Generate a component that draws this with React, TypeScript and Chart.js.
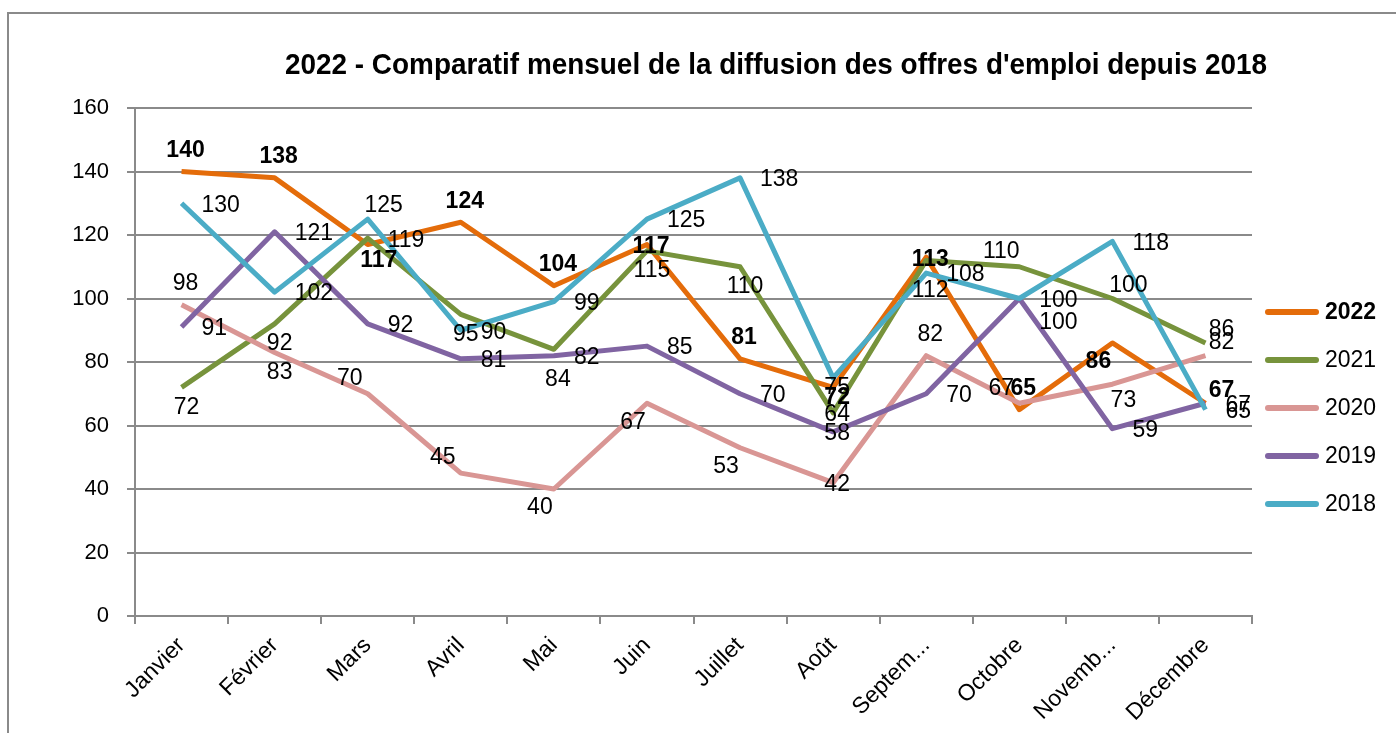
import React, { useEffect, useRef } from "react";
import { Chart, registerables } from "chart.js";

Chart.register(...registerables);

const categories = ["Janvier", "Février", "Mars", "Avril", "Mai", "Juin", "Juillet", "Août", "Septembre", "Octobre", "Novembre", "Décembre"];
const tickLabels = ["Janvier", "Février", "Mars", "Avril", "Mai", "Juin", "Juillet", "Août", "Septem...", "Octobre", "Novemb...", "Décembre"];

const seriesNames = ["2022", "2021", "2020", "2019", "2018"];
const values2022 = [140, 138, 117, 124, 104, 117, 81, 72, 113, 65, 86, 67];
const values2021 = [72, 92, 119, 95, 84, 115, 110, 64, 112, 110, 100, 86];
const values2020 = [98, 83, 70, 45, 40, 67, 53, 42, 82, 67, 73, 82];
const values2019 = [91, 121, 92, 81, 82, 85, 70, 58, 70, 100, 59, 67];
const values2018 = [130, 102, 125, 90, 99, 125, 138, 75, 108, 100, 118, 65];

const titleText = "2022 - Comparatif mensuel de la diffusion des offres d'emploi depuis 2018";

const FONT = "'Liberation Sans', Arial, sans-serif";
const colors = ["#E46C0A", "#77933C", "#D99694", "#8064A2", "#4BACC6"];

// Label anchor codes (style only): A above, B below, C on point, R right,
// RB right-low, AL/AR above-left/right, BL/BR below-left/right, BB far below
const anchors2022 = ["A", "A", "BR", "A", "A", "C", "A", "CB", "C", "A", "BL", "AR"];
const anchors2021 = ["B", "B", "R", "B", "BB", "B", "B", "C", "BB", "AL", "AR", "AR"];
const anchors2020 = ["A", "B", "AL", "AL", "BL", "BL", "BL", "C", "A", "AL", "BR", "AR"];
const anchors2019 = ["R", "R", "R", "R", "R", "R", "R", "C", "R", "RB", "R", "R"];
const anchors2018 = ["R", "R", "AR", "R", "R", "R", "R", "CB", "R", "R", "R", "R"];
const anchorSets = [anchors2022, anchors2021, anchors2020, anchors2019, anchors2018];

const anchorOffsets: Record<string, [number, number]> = {
  A: [4, -21],
  B: [5, 20],
  BB: [4, 30],
  C: [4, 2],
  CB: [4, 10],
  AL: [-18, -15],
  AR: [16, -13],
  BL: [-14, 19],
  BR: [11, 16],
};

const titlePlugin = {
  id: "customTitle",
  afterDraw(chart: any) {
    const ctx = chart.ctx;
    ctx.save();
    ctx.font = `bold 30px ${FONT}`;
    ctx.fillStyle = "#000";
    ctx.textBaseline = "alphabetic";
    ctx.textAlign = "center";
    const target = 982;
    const w = ctx.measureText(titleText).width;
    const sx = Math.min(1, target / w);
    ctx.translate(776, 74);
    ctx.scale(sx, 1);
    ctx.fillText(titleText, 0, 0);
    ctx.restore();
  },
};

const legendPlugin = {
  id: "customLegend",
  afterDraw(chart: any) {
    const ctx = chart.ctx;
    ctx.save();
    chart.data.datasets.forEach((ds: any, i: number) => {
      const y = 312 + i * 48;
      ctx.strokeStyle = ds.borderColor;
      ctx.lineWidth = 6;
      ctx.lineCap = "round";
      ctx.beginPath();
      ctx.moveTo(1268, y);
      ctx.lineTo(1316, y);
      ctx.stroke();
      ctx.font = `${i === 0 ? "bold " : ""}23px ${FONT}`;
      ctx.fillStyle = "#000";
      ctx.textAlign = "left";
      ctx.textBaseline = "middle";
      ctx.fillText(ds.label, 1325, y + 1);
    });
    ctx.restore();
  },
};

const dataLabelPlugin = {
  id: "dataLabels",
  afterDatasetsDraw(chart: any) {
    const ctx = chart.ctx;
    ctx.save();
    chart.data.datasets.forEach((ds: any, i: number) => {
      const meta = chart.getDatasetMeta(i);
      ctx.font = `${i === 0 ? "bold " : ""}23px ${FONT}`;
      ctx.fillStyle = "#000";
      ctx.textBaseline = "middle";
      meta.data.forEach((pt: any, j: number) => {
        const code = anchorSets[i][j];
        const text = String(ds.data[j]);
        if (code === "R" || code === "RB") {
          ctx.textAlign = "left";
          ctx.fillText(text, pt.x + 20, pt.y + (code === "RB" ? 24 : 2));
        } else {
          const [dx, dy] = anchorOffsets[code];
          ctx.textAlign = "center";
          ctx.fillText(text, pt.x + dx, pt.y + dy);
        }
      });
    });
    ctx.restore();
  },
};

export default function App() {
  const ref = useRef<HTMLCanvasElement | null>(null);
  useEffect(() => {
    if (!ref.current) return;
    const allValues = [values2022, values2021, values2020, values2019, values2018];
    const chart = new Chart(ref.current, {
      type: "line",
      data: {
        labels: categories,
        datasets: seriesNames.map((name, i) => ({
          label: name,
          data: allValues[i],
          borderColor: colors[i],
          backgroundColor: colors[i],
          borderWidth: 5,
          pointRadius: 0,
          tension: 0,
          fill: false,
          order: 5 - i,
          borderJoinStyle: "round" as const,
        })),
      },
      options: {
        responsive: false,
        animation: false,
        layout: { padding: { top: 108, right: 144, left: 0, bottom: 0 } },
        plugins: {
          legend: { display: false },
          title: { display: false },
          tooltip: { enabled: false },
        },
        scales: {
          x: {
            type: "category",
            offset: true,
            grid: { offset: true, drawOnChartArea: false, drawTicks: true, tickLength: 8, color: "#8a8a8a", lineWidth: 2 },
            border: { color: "#8a8a8a", width: 2 },
            ticks: {
              minRotation: 45,
              maxRotation: 45,
              autoSkip: false,
              padding: 8,
              color: "#000",
              font: { family: FONT, size: 23 },
              callback: (_v: any, i: number) => tickLabels[i],
            },
            afterFit: (s: any) => {
              s.height = 117;
            },
          },
          y: {
            min: 0,
            max: 160,
            ticks: { stepSize: 20, padding: 18, color: "#000", font: { family: FONT, size: 22 } },
            grid: { color: "#8a8a8a", lineWidth: 2, tickLength: 8 },
            border: { color: "#8a8a8a", width: 2 },
            afterFit: (s: any) => {
              s.width = 135;
            },
          },
        },
      },
      plugins: [dataLabelPlugin, titlePlugin, legendPlugin],
    });
    return () => chart.destroy();
  }, []);

  return (
    <div style={{ position: "fixed", left: 0, top: 0, width: 1396, height: 733, overflow: "hidden", background: "#fff" }}>
      <div
        style={{
          position: "absolute",
          left: 7,
          top: 12,
          width: 1500,
          height: 800,
          border: "2px solid #8a8a8a",
          boxSizing: "border-box",
        }}
      />
      <canvas ref={ref} width={1396} height={733} style={{ position: "absolute", left: 0, top: 0 }} />
    </div>
  );
}
